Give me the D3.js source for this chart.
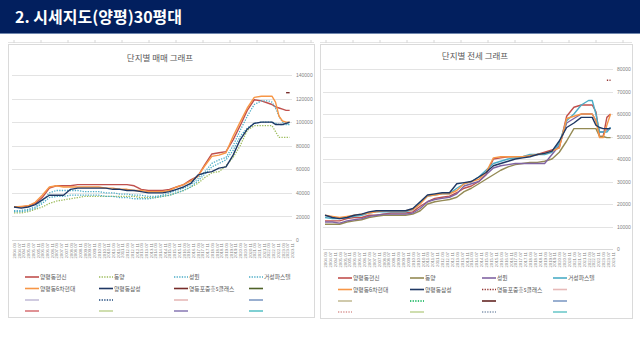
<!DOCTYPE html>
<html>
<head>
<meta charset="utf-8">
<script src="https://cdn.jsdelivr.net/npm/d3@7"></script>
<style>
  body { margin: 0; background: #fff; }
  svg { display: block; font-family: "Noto Sans CJK KR", "Noto Sans", sans-serif; }
</style>
</head>
<body>
<svg id="chart" width="640" height="360"></svg>
<script>
// data points (semi-annual, denser at the end)
const dates = ['2004.03','2004.09','2005.03','2005.09','2006.03','2006.09','2007.03','2007.09',
  '2008.03','2008.09','2009.03','2009.09','2010.03','2010.09','2011.03','2011.09','2012.03','2012.09',
  '2013.03','2013.09','2014.03','2014.09','2015.03','2015.09','2016.03','2016.09','2017.03','2017.09',
  '2018.03','2018.09','2019.03','2019.09','2020.03','2020.09','2021.03','2021.09','2022.03','2022.06',
  '2022.09','2022.12','2023.03','2023.06','2023.09'];

const tickLabels = ['2004.03','2004.07','2004.11','2005.03','2005.07','2005.11','2006.03','2006.07','2006.11',
  '2007.03','2007.07','2007.11','2008.03','2008.07','2008.11','2009.03','2009.07','2009.11',
  '2010.03','2010.07','2010.11','2011.03','2011.07','2011.11','2012.03','2012.07','2012.11',
  '2013.03','2013.07','2013.11','2014.03','2014.07','2014.11','2015.03','2015.07','2015.11',
  '2016.03','2016.07','2016.11','2017.03','2017.07','2017.11','2018.03','2018.07','2018.11',
  '2019.03','2019.07','2019.11','2020.03','2020.07','2020.11','2021.03','2021.07','2021.11',
  '2022.03','2022.07','2022.11','2023.03','2023.07','2023.11'];

const names = ['양평동현신', '동양', '성원', '거성파스텔', '양평동6차현대', '양평동삼성', '영등포중흥s클래스'];

// 매매
const saleHyunsin = [28000,28000,29000,31000,36000,44000,46000,46000,46000,47000,47000,47000,47000,47000,47000,47000,47000,46000,43000,42000,42000,42000,43000,45000,47000,51000,54000,64000,73000,74000,75000,85000,97000,110000,119000,118000,116000,115000,113000,112000,111000,110000,110000];
const saleDongyang = [23000,23000,24000,26000,28000,31000,33000,34000,35000,36000,37000,37000,37000,37000,37000,37000,37000,37000,36000,36000,36000,37000,38000,40000,42000,45000,48000,53000,57000,58000,63000,70000,80000,93000,97000,97000,97000,97000,92000,87000,87000,87000,87000];
const saleSungwon = [25000,25000,26000,28000,33000,40000,42000,42000,42000,42000,41000,41000,41000,40000,40000,39000,39000,38000,38000,37000,37000,38000,40000,42000,44000,47000,52000,58000,65000,68000,70000,80000,93000,105000,115000,118000,118000,117000,112000,105000,100000,99000,98000];
const saleGeosung = [24000,24000,25000,27000,31000,36000,37000,37000,38000,38000,38000,38000,38000,37000,37000,36000,36000,35000,35000,35000,36000,37000,38000,40000,42000,45000,50000,56000,62000,65000,68000,76000,88000,95000,99000,100000,100000,100000,99000,98000,98000,98000,98000];
const saleHyundai6 = [28000,28500,29000,32000,38000,45000,46000,45000,45000,45000,45000,45000,45000,44000,44000,43000,43000,42000,42000,41000,41000,41000,42000,45000,47000,50000,54000,63000,71000,72000,74000,88000,100000,112000,121000,122000,122000,122000,117000,105000,101000,100000,100000];
const saleSamsung = [28000,27000,28000,30000,34000,38000,38000,38000,43000,44000,44000,44000,44000,44000,43000,43000,42000,42000,41000,40000,40000,40000,41000,43000,45000,48000,55000,57000,58000,61000,62000,72000,85000,94000,99000,100000,100000,100000,98000,98000,98000,99000,100000];
const saleJoongheung = [null,null,null,null,null,null,null,null,null,null,null,null,null,null,null,null,null,null,null,null,null,null,null,null,null,null,null,null,null,null,null,null,null,null,null,null,null,null,null,null,null,125000,125000];

// 전세
const rentHyunsin = [12500,12500,12500,13500,14000,14000,15000,15000,15500,16000,16000,16000,16500,19000,21000,22500,23000,23500,25000,27000,28000,30000,33000,40000,40500,41000,41000,41000,41500,42000,43000,44000,45000,59000,63000,64000,64000,64000,61000,50000,50000,58500,60000];
const rentDongyang = [11000,11000,11000,12000,12500,13000,14000,14500,15000,15000,15000,15000,15500,17000,20000,21000,21500,22000,23000,25500,27000,29000,31000,33000,35000,36500,37500,38000,38500,38500,39000,40000,43000,48000,53500,53500,53500,53500,53500,50000,50000,49500,49500];
const rentSungwon = [12000,12000,11500,12500,13000,13500,14500,15000,15500,15500,15500,15500,16000,18000,21000,22000,22500,23000,24500,28000,29000,30000,33000,36000,37000,37500,38000,38000,38000,38000,38000,42000,46000,56000,58000,60000,60000,60000,57000,52000,52000,53000,54000];
const rentGeosung = [14000,13500,13500,14000,14500,15000,16000,16500,16500,16500,16500,16500,17500,20500,23500,24000,24500,24500,27000,29000,30000,32000,35000,38000,39000,40000,40500,41000,42000,42000,42000,43000,47000,57000,60000,64000,66000,66000,60000,52000,52000,52000,54000];
const rentHyundai6 = [15000,14500,14000,14500,15000,15500,16000,16500,17000,17000,17000,17000,17500,20000,23500,24000,24500,24500,26000,29000,30000,31000,34000,40500,41000,41000,41000,41000,41500,42000,42500,43500,45000,58000,59000,60000,60000,60000,57000,49500,49500,55000,60000];
const rentSamsung = [15000,14000,13500,14000,15000,15500,16500,17000,17000,17000,17000,17000,18000,21000,24000,24500,25000,25000,29000,29500,30000,32000,34000,37000,38000,39000,40000,40500,41000,42000,42500,43500,48000,54000,56000,58500,58500,58500,55000,54000,53500,53500,53500];
const rentJoongheung = [null,null,null,null,null,null,null,null,null,null,null,null,null,null,null,null,null,null,null,null,null,null,null,null,null,null,null,null,null,null,null,null,null,null,null,null,null,null,null,null,null,75000,75000];

const saleTicks = [0, 20000, 40000, 60000, 80000, 100000, 120000, 140000];
const rentTicks = [0, 10000, 20000, 30000, 40000, 50000, 60000, 70000, 80000];

const parse = d3.timeParse('%Y.%m');
const svg = d3.select('#chart');

// header
svg.append('rect').attr('width', 640).attr('height', 33).attr('fill', '#021f5e');
svg.append('rect').attr('y', 33).attr('width', 640).attr('height', 1).attr('fill', '#6f86ad');
svg.append('text').attr('x', 15).attr('y', 23)
  .attr('fill', '#fff').attr('font-size', 16).attr('font-weight', 'bold')
  .text('2. 시세지도(양평)30평대');

function drawChart(cfg) {
  const g = svg.append('g');

  // stray sheet border with ticks above panel
  g.append('line').attr('x1', cfg.box[0]).attr('x2', cfg.box[2]).attr('y1', 42.5).attr('y2', 42.5)
    .attr('stroke', '#e4e4e4');
  for (let x = cfg.box[0] + 6; x < cfg.box[2]; x += 27) {
    g.append('line').attr('x1', x).attr('x2', x).attr('y1', 40).attr('y2', 43).attr('stroke', '#d6d6d6');
  }

  g.append('rect')
    .attr('x', cfg.box[0] + 0.5).attr('y', cfg.box[1] + 0.5)
    .attr('width', cfg.box[2] - cfg.box[0]).attr('height', cfg.box[3] - cfg.box[1])
    .attr('fill', '#fff').attr('stroke', '#dadada');

  g.append('text').attr('x', cfg.titleX).attr('y', cfg.titleY)
    .attr('text-anchor', 'middle').attr('font-size', 8.5).attr('fill', '#595959')
    .text(cfg.title);

  const x = d3.scaleTime()
    .domain([parse(tickLabels[0]), parse(tickLabels[tickLabels.length - 1])])
    .range([cfg.plot.left, cfg.plot.right]);
  const y = d3.scaleLinear().domain(cfg.yDomain).range([cfg.plot.bottom, cfg.plot.top]);

  // gridlines
  g.append('g').selectAll('line').data(cfg.yTicks.slice(1)).join('line')
    .attr('x1', cfg.plot.left - 2).attr('x2', cfg.plot.right)
    .attr('y1', d => Math.round(y(d)) + 0.5).attr('y2', d => Math.round(y(d)) + 0.5)
    .attr('stroke', '#e3e3e3');

  g.append('line').attr('x1', cfg.plot.left - 2).attr('x2', cfg.plot.right)
    .attr('y1', Math.round(y(0)) + 0.5).attr('y2', Math.round(y(0)) + 0.5)
    .attr('stroke', '#d9d9d9');

  // y axis at right
  const yAxis = g.append('g')
    .attr('transform', `translate(${cfg.plot.right + 2},0)`)
    .call(d3.axisRight(y).tickValues(cfg.yTicks).tickFormat(d3.format('d')).tickSize(0).tickPadding(2));
  yAxis.select('.domain').remove();
  yAxis.selectAll('text').attr('font-size', 5).attr('fill', '#7f7f7f')
    .attr('font-family', '"Liberation Sans", sans-serif');

  // x axis, vertical labels
  const xAxis = g.append('g')
    .attr('transform', `translate(0,${cfg.plot.bottom})`)
    .call(d3.axisBottom(x).tickValues(tickLabels.map(parse)).tickFormat(d3.timeFormat('%Y.%m'))
      .tickSize(0).tickPadding(0));
  xAxis.select('.domain').remove();
  xAxis.selectAll('text')
    .attr('font-size', 4.3).attr('fill', '#7f7f7f')
    .attr('font-family', '"Liberation Sans", sans-serif')
    .attr('text-anchor', 'end').attr('dy', '0.35em')
    .attr('transform', 'translate(0,3) rotate(-90)');

  const line = d3.line()
    .defined(d => d.v != null)
    .x(d => x(d.t)).y(d => y(d.v));

  cfg.series.forEach(s => {
    const pts = dates.map((d, i) => ({ t: parse(d), v: s.values[i] }));
    g.append('path')
      .attr('d', line(pts))
      .attr('fill', 'none')
      .attr('stroke', s.color)
      .attr('stroke-width', s.dash ? 1.3 : 1.4)
      .attr('stroke-dasharray', s.dash ? '1.3,1.3' : null)
      .attr('stroke-linejoin', 'round');
  });

  // legend 4 x 4
  const lg = g.append('g');
  cfg.legend.forEach((e, i) => {
    const cx = cfg.legendCols[i % 4];
    const cy = cfg.legendRows[Math.floor(i / 4)];
    lg.append('line').attr('x1', cx).attr('x2', cx + 14).attr('y1', cy).attr('y2', cy)
      .attr('stroke', e.color).attr('stroke-width', 1.6)
      .attr('stroke-dasharray', e.dash ? '1.3,1.3' : null);
    if (e.name) {
      lg.append('text').attr('x', cx + 15).attr('y', cy).attr('dy', '0.35em')
        .attr('font-size', 5.8).attr('fill', '#595959').text(e.name);
    }
  });
}

const saleColors = ['#c0504d', '#9bbb59', '#4bacc6', '#4bacc6', '#f79646', '#1f3864', '#772c2a'];
const saleDash = [false, true, true, true, false, false, false];
const saleValues = [saleHyunsin, saleDongyang, saleSungwon, saleGeosung, saleHyundai6, saleSamsung, saleJoongheung];

drawChart({
  box: [8, 44, 314, 317],
  title: '단지별 매매 그래프',
  titleX: 160, titleY: 61,
  plot: { left: 14, right: 292, top: 75, bottom: 240 },
  yDomain: [0, 140000],
  yTicks: saleTicks,
  series: saleValues.map((v, i) => ({ values: v, color: saleColors[i], dash: saleDash[i] })),
  legend: names.map((n, i) => ({ name: n, color: saleColors[i], dash: saleDash[i] })).concat([
    { color: '#4f6228' },
    { color: '#c5bed8' }, { color: '#1f497d', dash: true }, { color: '#e6b9b8' }, { color: '#7f9bc4' },
    { color: '#d9777a' }, { color: '#c3d69b' }, { color: '#8f7fb8' }, { color: '#5fc4c8' }
  ]),
  legendCols: [25, 99, 174, 249],
  legendRows: [277, 288.5, 300, 311]
});

const rentColors = ['#c0504d', '#948a54', '#8064a2', '#4bacc6', '#f79646', '#1f3864', '#953735'];
const rentDash = [false, false, false, false, false, false, true];
const rentValues = [rentHyunsin, rentDongyang, rentSungwon, rentGeosung, rentHyundai6, rentSamsung, rentJoongheung];

drawChart({
  box: [320, 44, 632, 318],
  title: '단지별 전세 그래프',
  titleX: 475, titleY: 59,
  plot: { left: 325, right: 613, top: 69, bottom: 249 },
  yDomain: [0, 80000],
  yTicks: rentTicks,
  series: rentValues.map((v, i) => ({ values: v, color: rentColors[i], dash: rentDash[i] })),
  legend: names.map((n, i) => ({ name: n, color: rentColors[i], dash: rentDash[i] })).concat([
    { color: '#e6b9b8' },
    { color: '#c4bd97' }, { color: '#00b050', dash: true }, { color: '#632523' }, { color: '#7f9bc4' },
    { color: '#d99694', dash: true }, { color: '#c3d69b' }, { color: '#8497b0', dash: true }, { color: '#6fcacb' }
  ]),
  legendCols: [338, 410, 482, 553],
  legendRows: [278, 289.5, 301, 312]
});
</script>
</body>
</html>
